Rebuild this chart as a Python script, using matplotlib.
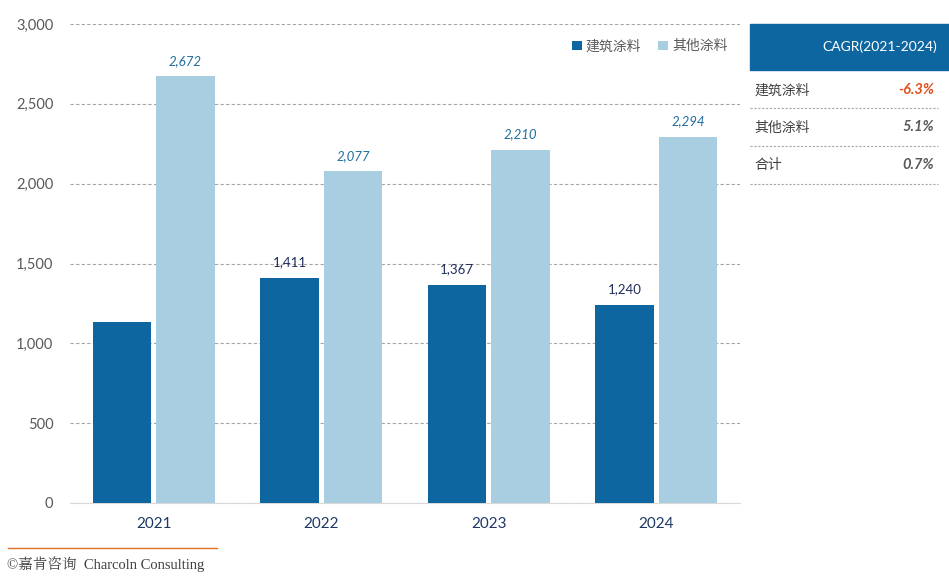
import numpy as np
import matplotlib.pyplot as plt
from matplotlib.lines import Line2D

plt.rcParams['font.family'] = ['Lato', 'Noto Sans CJK SC', 'DejaVu Sans']

years = ["2021", "2022", "2023", "2024"]
arch = [1133, 1411, 1367, 1240]
other = [2672, 2077, 2210, 2294]
arch_labels = ["", "1,411", "1,367", "1,240"]
other_labels = ["2,672", "2,077", "2,210", "2,294"]
cagr_names = ["建筑涂料", "其他涂料", "合计"]
cagr_values = ["-6.3%", "5.1%", "0.7%"]

dark = "#0E66A1"
light = "#A9CEE2"

fig = plt.figure(figsize=(9.49, 5.76), dpi=100)
ax = fig.add_axes([70 / 949, 1 - 503 / 576, 670 / 949, 479 / 576])

x = np.arange(len(years))
w = 0.35
ax.bar(x - 0.19, arch, w, color=dark, label="建筑涂料", zorder=3)
ax.bar(x + 0.19, other, w, color=light, label="其他涂料", zorder=3)

for i in range(len(years)):
    if arch_labels[i]:
        ax.text(x[i] - 0.19, arch[i] + 60, arch_labels[i], ha="center", va="bottom",
                fontsize=9.5, color="#1F2D5A")
    ax.text(x[i] + 0.19, other[i] + 60, other_labels[i], ha="center", va="bottom",
            fontsize=9.5, color="#1F6E9E", style="italic")

ax.set_xlim(-0.5, 3.5)
ax.set_ylim(0, 3000)
ax.set_yticks(range(0, 3001, 500))
ax.set_yticklabels([f"{v:,}" for v in range(0, 3001, 500)])
ax.set_xticks(x)
ax.set_xticklabels(years)
ax.tick_params(axis="y", length=0, labelsize=10.5, labelcolor="#595959", pad=12)
ax.tick_params(axis="x", length=0, labelsize=11, labelcolor="#1F3864", pad=10)
ax.grid(axis="y", color="#A6A6A6", linestyle=(0, (3, 2)), linewidth=0.8, zorder=0)
for s in ["top", "right", "left"]:
    ax.spines[s].set_visible(False)
ax.spines["bottom"].set_color("#D9D9D9")

leg = ax.legend(loc="upper right", bbox_to_anchor=(1.0, 0.995), ncol=2, frameon=False,
                fontsize=10, handlelength=0.7, handleheight=0.7, handletextpad=0.3,
                columnspacing=1.2)
for t in leg.get_texts():
    t.set_color("#595959")

# CAGR table on the right
def fx(px):
    return px / 949

def fy(py):
    return 1 - py / 576

fig.patches.append(plt.Rectangle((fx(750), fy(70)), fx(949) - fx(750), fy(24) - fy(70),
                                 transform=fig.transFigure, color=dark, zorder=1))
fig.text(fx(937), fy(47), "CAGR(2021-2024)", ha="right", va="center", color="white", fontsize=10)
row_y = [90, 127, 165]
line_y = [108, 146, 184]
for i in range(3):
    fig.text(fx(754), fy(row_y[i]), cagr_names[i], ha="left", va="center",
             color="#404040", fontsize=10)
    c = "#E0501E" if cagr_values[i].startswith("-") else "#595959"
    fig.text(fx(934), fy(row_y[i]), cagr_values[i], ha="right", va="center",
             color=c, fontsize=10.5, style="italic", weight="bold")
    fig.add_artist(Line2D([fx(750), fx(938)], [fy(line_y[i])] * 2, transform=fig.transFigure,
                          color="#A6A6A6", linestyle=(0, (2, 1.5)), linewidth=0.8))

# footer
fig.add_artist(Line2D([fx(8), fx(217)], [fy(548)] * 2, transform=fig.transFigure,
                      color="#E07020", linewidth=1))
fig.text(fx(7), fy(564), "©嘉肯咨询  Charcoln Consulting", ha="left", va="center",
         fontsize=10.5, color="#404040", family=["Liberation Serif", "Noto Serif CJK SC", "Noto Sans CJK SC"])

fig.savefig("out.png", dpi=100)
